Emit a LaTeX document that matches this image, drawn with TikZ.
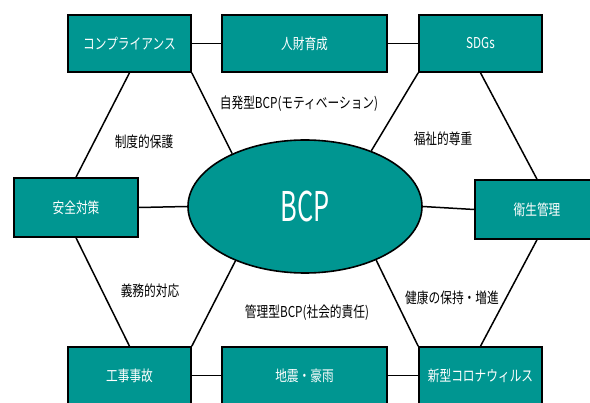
\documentclass[tikz,border=0pt]{standalone}
\usepackage{fontspec}
\usetikzlibrary{shapes.geometric}
\newfontfamily\jp[FakeStretch=0.78]{Noto Sans CJK JP}
\newfontfamily\bcpfont[FakeStretch=0.62]{Noto Sans CJK JP}
\definecolor{teal}{RGB}{0,150,145}
\tikzset{
  box/.style={draw=black, line width=1.6pt, fill=teal, text=white, inner sep=0pt,
    minimum height=57pt, font=\jp\fontsize{15}{18}\selectfont},
  boxs/.style={box, minimum width=123pt},
  boxw/.style={box, minimum width=165pt},
  lbl/.style={text=black, inner sep=0pt, font=\jp\fontsize{15}{18}\selectfont},
  conn/.style={draw=black, line width=1.5pt},
}
\begin{document}
\begin{tikzpicture}[x=1pt,y=-1pt]
\useasboundingbox (0,0) rectangle (590,403);
\clip (0,0) rectangle (590,403);
\fill[white] (0,0) rectangle (590,403);
% nodes
\node[boxs] (comp) at (129.5,43.5) {コンプライアンス};
\node[boxw] (jinzai) at (304.5,43.5) {人財育成};
\node[boxs] (sdgs) at (480.5,43.5) {SDGs};
\node[boxs, minimum width=124pt, minimum height=59pt] (anzen) at (76,207.5) {安全対策};
\node[boxs, minimum width=124pt, minimum height=59pt] (eisei) at (537,209.5) {衛生管理};
\node[boxs] (koji) at (129.5,375.5) {工事事故};
\node[boxw] (jishin) at (304.5,375.5) {地震・豪雨};
\node[boxs] (shingata) at (480.5,375.5) {新型コロナウィルス};
\node[ellipse, draw=black, line width=1.6pt, fill=teal, text=white, inner sep=0pt,
  minimum width=234pt, minimum height=133pt, font=\bcpfont\fontsize{41}{46}\selectfont] (bcp) at (305,206.5) {BCP};
% connectors
\draw[conn] (comp) -- (jinzai);
\draw[conn] (jinzai) -- (sdgs);
\draw[conn] (koji) -- (jishin);
\draw[conn] (jishin) -- (shingata);
\draw[conn] (comp.south) -- (anzen.north);
\draw[conn] (anzen.south) -- (koji.north);
\draw[conn] (sdgs.south) -- (eisei.north);
\draw[conn] (eisei.south) -- (shingata.north);
\draw[conn] (comp.south east) -- (bcp.144);
\draw[conn] (sdgs.south west) -- (bcp.40);
\draw[conn] (koji.north east) -- (bcp.218);
\draw[conn] (shingata.north west) -- (bcp.323);
\draw[conn] (anzen.east) -- (bcp.west);
\draw[conn] (bcp.east) -- (eisei.west);
% labels
\node[lbl] (l1) at (299,104) {自発型BCP(モティベーション)};
\node[lbl] (l2) at (144,142) {制度的保護};
\node[lbl] (l3) at (443,139) {福祉的尊重};
\node[lbl] (l4) at (150,291) {義務的対応};
\node[lbl] (l5) at (307,313) {管理型BCP(社会的責任)};
\node[lbl] (l6) at (452,298) {健康の保持・増進};
\end{tikzpicture}
\end{document}
